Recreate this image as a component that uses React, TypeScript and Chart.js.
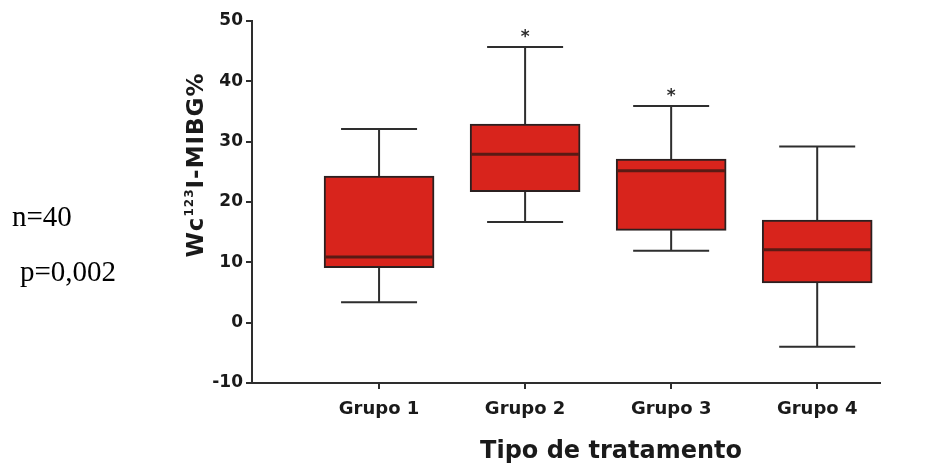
import React, { useEffect, useRef } from 'react';
import { Chart, registerables } from 'chart.js';

Chart.register(...registerables);

const categories = ['Grupo 1', 'Grupo 2', 'Grupo 3', 'Grupo 4'];
const positions = [1, 2, 3, 4];
const whiskerMin = [3.4, 16.7, 11.9, -4.0];
const quartile1 = [9.1, 21.7, 15.3, 6.6];
const medians = [10.9, 27.9, 25.2, 12.1];
const quartile3 = [24.3, 32.9, 27.1, 17.0];
const whiskerMax = [32.1, 45.7, 35.9, 29.2];
const significant = [false, true, true, false];
const yTicks = [-10, 0, 10, 20, 30, 40, 50];

const FONT = '"DejaVu Sans", "Open Sans", sans-serif';
const INK = '#2e2e2e';

const boxplotExtras = {
  id: 'boxplotExtras',
  beforeDatasetsDraw(chart: any) {
    const { ctx } = chart;
    const xs = chart.scales.x;
    const ys = chart.scales.y;
    ctx.save();
    ctx.strokeStyle = INK;
    ctx.lineWidth = 2;
    positions.forEach((p, i) => {
      const x = xs.getPixelForValue(p);
      const yMax = ys.getPixelForValue(whiskerMax[i]);
      const yMin = ys.getPixelForValue(whiskerMin[i]);
      const yQ1 = ys.getPixelForValue(quartile1[i]);
      const yQ3 = ys.getPixelForValue(quartile3[i]);
      const cap = 38;
      ctx.beginPath();
      ctx.moveTo(x, yQ3);
      ctx.lineTo(x, yMax);
      ctx.moveTo(x - cap, yMax);
      ctx.lineTo(x + cap, yMax);
      ctx.moveTo(x, yQ1);
      ctx.lineTo(x, yMin);
      ctx.moveTo(x - cap, yMin);
      ctx.lineTo(x + cap, yMin);
      ctx.stroke();
    });
    ctx.restore();
  },
  afterDatasetsDraw(chart: any) {
    const { ctx } = chart;
    const xs = chart.scales.x;
    const ys = chart.scales.y;
    const meta = chart.getDatasetMeta(0);
    ctx.save();
    // medians
    ctx.strokeStyle = '#5a1a14';
    ctx.lineWidth = 3;
    positions.forEach((p, i) => {
      const el = meta.data[i];
      const x = el ? el.x : xs.getPixelForValue(p);
      const half = el ? el.width / 2 - 1 : 54;
      const y = ys.getPixelForValue(medians[i]);
      ctx.beginPath();
      ctx.moveTo(x - half, y);
      ctx.lineTo(x + half, y);
      ctx.stroke();
    });
    // significance stars
    ctx.fillStyle = INK;
    ctx.font = `bold 17px ${FONT}`;
    ctx.textAlign = 'center';
    ctx.textBaseline = 'alphabetic';
    positions.forEach((p, i) => {
      if (!significant[i]) return;
      const x = xs.getPixelForValue(p);
      const y = ys.getPixelForValue(whiskerMax[i]);
      ctx.fillText('*', x, y - 5);
    });
    // x-axis title
    ctx.font = `bold 24px ${FONT}`;
    ctx.fillStyle = '#1a1a1a';
    ctx.textAlign = 'center';
    ctx.fillText('Tipo de tratamento', 611, 458);
    // y-axis title with superscript
    const mainFont = `bold 23px ${FONT}`;
    const supFont = `bold 12px ${FONT}`;
    const parts = [
      { t: 'Wc', f: mainFont, dy: 0 },
      { t: '123', f: supFont, dy: -10 },
      { t: 'I-MIBG%', f: mainFont, dy: 0 },
    ];
    (ctx as any).letterSpacing = '1px';
    let total = 0;
    const widths = parts.map((pt) => {
      ctx.font = pt.f;
      const w = ctx.measureText(pt.t).width;
      total += w;
      return w;
    });
    ctx.translate(203, 165);
    ctx.rotate(-Math.PI / 2);
    ctx.textAlign = 'left';
    ctx.textBaseline = 'alphabetic';
    let cx = -total / 2;
    parts.forEach((pt, i) => {
      ctx.font = pt.f;
      ctx.fillText(pt.t, cx, pt.dy);
      cx += widths[i];
    });
    (ctx as any).letterSpacing = '0px';
    ctx.restore();
  },
};

export default function App() {
  const canvasRef = useRef<HTMLCanvasElement | null>(null);

  useEffect(() => {
    const canvas = canvasRef.current;
    if (!canvas) return;
    const chart = new Chart(canvas, {
      type: 'bar',
      data: {
        datasets: [
          {
            label: 'IQR',
            data: positions.map((p, i) => ({ x: p, y: [quartile1[i], quartile3[i]] })) as any,
            backgroundColor: '#d8241c',
            borderColor: '#2b2020',
            borderWidth: 2,
            borderSkipped: false,
            barThickness: 110,
          },
        ],
      },
      options: {
        responsive: false,
        animation: false,
        devicePixelRatio: 1,
        layout: { padding: { left: 0, top: 21, right: 53, bottom: 0 } },
        plugins: {
          legend: { display: false },
          tooltip: { enabled: false },
          title: { display: false },
        },
        scales: {
          x: {
            type: 'linear',
            min: 0.13,
            max: 4.43,
            offset: false,
            afterBuildTicks: (s: any) => {
              s.ticks = positions.map((v) => ({ value: v }));
            },
            afterFit: (s: any) => {
              s.height = 80;
            },
            grid: {
              offset: false,
              drawOnChartArea: false,
              drawTicks: true,
              tickLength: 6,
              color: INK,
              lineWidth: 2,
            },
            border: { display: true, color: INK, width: 2 },
            ticks: {
              padding: 10,
              color: '#1a1a1a',
              font: { family: FONT, size: 18, weight: 'bold' },
              callback: (v: any) => {
                const idx = positions.indexOf(Number(v));
                return idx >= 0 ? categories[idx] : '';
              },
            },
          },
          y: {
            type: 'linear',
            min: -10,
            max: 50,
            afterBuildTicks: (s: any) => {
              s.ticks = yTicks.map((v) => ({ value: v }));
            },
            afterFit: (s: any) => {
              s.width = 252;
            },
            grid: {
              drawOnChartArea: false,
              drawTicks: true,
              tickLength: 6,
              color: INK,
              lineWidth: 2,
            },
            border: { display: true, color: INK, width: 2 },
            ticks: {
              padding: 3,
              color: '#1a1a1a',
              font: { family: FONT, size: 17, weight: 'bold' },
            },
          },
        },
      },
      plugins: [boxplotExtras],
    });
    return () => chart.destroy();
  }, []);

  const serif: React.CSSProperties = {
    position: 'absolute',
    fontFamily: '"Liberation Serif", "Times New Roman", serif',
    fontSize: 29,
    lineHeight: '29px',
    color: '#000',
    whiteSpace: 'nowrap',
  };

  return (
    <div
      style={{
        position: 'fixed',
        left: 0,
        top: 0,
        width: 933,
        height: 463,
        background: '#fff',
        overflow: 'hidden',
      }}
    >
      <canvas
        ref={canvasRef}
        width={933}
        height={463}
        style={{ position: 'absolute', left: 0, top: 0, width: 933, height: 463 }}
      />
      <div style={{ ...serif, left: 12, top: 202 }}>n=40</div>
      <div style={{ ...serif, left: 20, top: 257 }}>p=0,002</div>
    </div>
  );
}
